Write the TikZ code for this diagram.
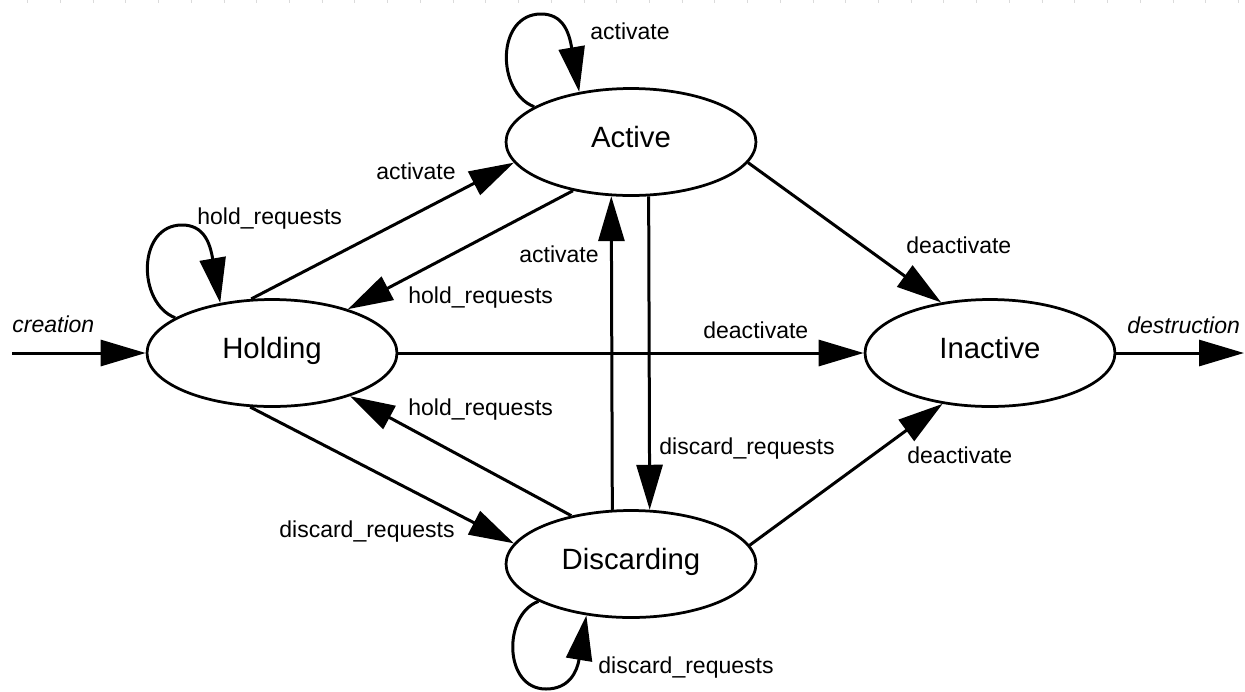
\documentclass[tikz,border=0pt]{standalone}
\usepackage{fontspec}
\setmainfont{Liberation Sans}
\usetikzlibrary{arrows.meta,shapes.geometric,calc}
\begin{document}
\begin{tikzpicture}[x=0.02cm,y=-0.02cm,
  state/.style={ellipse, draw, line width=0.055cm, minimum width=5.0cm,
    minimum height=2.14cm, inner sep=0pt,
    font=\fontsize{16.7}{20}\selectfont, text height=0.72em, text depth=0.1em},
  trans/.style={line width=0.06cm, -{Triangle[length=0.9cm,width=0.52cm]}},
  lbl/.style={anchor=base west, inner sep=0pt, font=\fontsize{13.1}{16}\selectfont},
  ext/.style={lbl, font=\fontsize{13.1}{16}\selectfont\itshape}]
\useasboundingbox (0,0) rectangle (1245,691);

% faint ruler ticks along the top edge
\draw[black!14, line width=0.06cm, dash pattern=on 0.02cm off 0.6346cm]
  (27.2,1.5) -- (1245,1.5);

% states
\node[state] (Active)     at (631,142) {Active};
\node[state] (Holding)    at (272,353) {Holding};
\node[state] (Inactive)   at (990,353) {Inactive};
\node[state] (Discarding) at (631,564) {Discarding};

% free ends of the creation / destruction arrows
\coordinate (born) at (12,353);
\coordinate (gone) at (1244,353);

% transitions
\draw[trans] (born) -- (Holding.west);
\draw[trans] (Inactive.east) -- (gone);
\draw[trans] (Holding.east) -- (Inactive.west);
\draw[trans] (Holding.111) -- (Active.190);
\draw[trans] (Active.220) -- (Holding.30);
\draw[trans] (Active.-10) -- (Inactive.134);
\draw[trans] (Discarding.9) -- (Inactive.227);
\draw[trans] (Holding.248) -- (Discarding.170);
\draw[trans] (Discarding.141) -- (Holding.-29);
\draw[trans] (Discarding.109.6) -- (Active.250.4);
\draw[trans] (Active.288.6) -- (Discarding.71.4);

% self loops
\draw[trans] (Holding.160)
  .. controls ($(Holding.center)+(-135,-50)$) and ($(Holding.center)+(-135,-128)$)
  .. ($(Holding.center)+(-90,-128)$)
  .. controls ($(Holding.center)+(-68,-128)$) and ($(Holding.center)+(-62,-110)$)
  .. (Holding.136);
\draw[trans] (Active.160)
  .. controls ($(Active.center)+(-135,-50)$) and ($(Active.center)+(-135,-128)$)
  .. ($(Active.center)+(-90,-128)$)
  .. controls ($(Active.center)+(-68,-128)$) and ($(Active.center)+(-62,-110)$)
  .. (Active.136);
\draw[trans] (Discarding.202.5)
  .. controls ($(Discarding.center)+(-128,50)$) and ($(Discarding.center)+(-128,125)$)
  .. ($(Discarding.center)+(-85,125)$)
  .. controls ($(Discarding.center)+(-62,125)$) and ($(Discarding.center)+(-54,108)$)
  .. (Discarding.229);

% transition labels
\node[lbl] (lA)  at (590,39)   {activate};
\node[lbl] (lH)  at (197,224)  {hold\_requests};
\node[lbl] (lHA) at (376,179)  {activate};
\node[lbl] (lAH) at (408,303)  {hold\_requests};
\node[lbl] (lDA) at (519,262)  {activate};
\node[lbl] (lAI) at (906,253)  {deactivate};
\node[ext] (lC)  at (12,332)   {creation};
\node[lbl] (lHI) at (703,338)  {deactivate};
\node[ext] (lX)  at (1127,333) {destruction};
\node[lbl] (lDH) at (408,415)  {hold\_requests};
\node[lbl] (lAD) at (659,454)  {discard\_requests};
\node[lbl] (lDI) at (907,463)  {deactivate};
\node[lbl] (lHD) at (279,537)  {discard\_requests};
\node[lbl] (lD)  at (598,673)  {discard\_requests};
\end{tikzpicture}
\end{document}
